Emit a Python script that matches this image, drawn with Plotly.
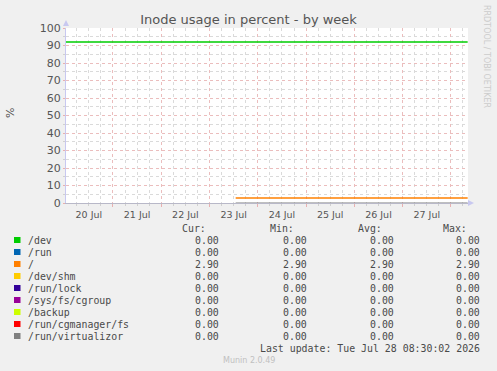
import plotly.graph_objects as go

# ---------------- data ----------------
series_names = ["/dev", "/run", "/", "/dev/shm", "/run/lock", "/sys/fs/cgroup",
                "/backup", "/run/cgmanager/fs", "/run/virtualizor"]
series_colors = ["#00CC00", "#0066B3", "#FF8000", "#FFCC00", "#330099",
                 "#990099", "#CCFF00", "#FF0000", "#808080"]
cur_vals = ["0.00", "0.00", "2.90", "0.00", "0.00", "0.00", "0.00", "0.00", "0.00"]
min_vals = ["0.00", "0.00", "2.90", "0.00", "0.00", "0.00", "0.00", "0.00", "0.00"]
avg_vals = ["0.00", "0.00", "2.90", "0.00", "0.00", "0.00", "0.00", "0.00", "0.00"]
max_vals = ["0.00", "0.00", "2.90", "0.00", "0.00", "0.00", "0.00", "0.00", "0.00"]

# line drawn across the whole week (green)
green_times = ["2026-07-20 00:35", "2026-07-28 08:20"]
green_values = [92, 92]
# series with data from 23 Jul onwards
data_times = ["2026-07-23 13:00", "2026-07-28 08:20"]
slash_values = [2.9, 2.9]
zero_values = [0, 0]

x_range = ["2026-07-20 00:39", "2026-07-28 08:30"]
y_range = [0, 100]
title_text = "Inode usage in percent - by week"
last_update = "Last update: Tue Jul 28 08:30:02 2026"

# ---------------- layout helpers ----------------
W, H = 497, 371
PL, PR, PT, PB = 66, 468, 28, 203


def xp(px):
    return (px - PL) / (PR - PL)


def yp(py):
    return (PB - py) / (PB - PT)


fig = go.Figure()

# zero-valued series (only the top-most one is visible at 0)
for name, col in zip(series_names, series_colors):
    if name != "/run/virtualizor":
        continue
    fig.add_trace(go.Scatter(x=data_times, y=zero_values, mode="lines",
                             line=dict(color=col, width=1.2), showlegend=False,
                             hoverinfo="skip"))

fig.add_trace(go.Scatter(x=green_times, y=green_values, mode="lines",
                         line=dict(color="#00CC00", width=1.5), showlegend=False))
fig.add_trace(go.Scatter(x=data_times, y=slash_values, mode="lines",
                         line=dict(color="#FF8000", width=1.5), showlegend=False))

mono = "DejaVu Sans Mono"
txt = "#4a4a4a"
annotations = []
shapes = []

# legend header
row_y0 = 240
row_dy = 12
hdr_y = 228
col_right = [221, 309, 396, 482]
headers = ["Cur:", "Min:", "Avg:", "Max:"]
hdr_right = [208, 296, 384, 469]
for h, r in zip(headers, hdr_right):
    annotations.append(dict(x=xp(r), y=yp(hdr_y), xref="paper", yref="paper",
                            text=h, showarrow=False, xanchor="right", yanchor="middle",
                            font=dict(family=mono, size=9.9, color=txt)))

for i, (name, col) in enumerate(zip(series_names, series_colors)):
    y = row_y0 + i * row_dy
    shapes.append(dict(type="rect", xref="paper", yref="paper",
                       x0=xp(14), x1=xp(20.5), y0=yp(y - 3), y1=yp(y + 3),
                       fillcolor=col, line=dict(width=0)))
    annotations.append(dict(x=xp(26), y=yp(y), xref="paper", yref="paper",
                            text=name, showarrow=False, xanchor="left", yanchor="middle",
                            font=dict(family=mono, size=9.9, color=txt)))
    for vals, r in zip([cur_vals, min_vals, avg_vals, max_vals], col_right):
        annotations.append(dict(x=xp(r), y=yp(y), xref="paper", yref="paper",
                                text=vals[i], showarrow=False, xanchor="right",
                                yanchor="middle",
                                font=dict(family=mono, size=9.9, color=txt)))

annotations.append(dict(x=xp(482), y=yp(348), xref="paper", yref="paper",
                        text=last_update, showarrow=False, xanchor="right",
                        yanchor="middle", font=dict(family=mono, size=9.9, color=txt)))
annotations.append(dict(x=xp(248.5), y=yp(360), xref="paper", yref="paper",
                        text="Munin 2.0.49", showarrow=False, xanchor="center",
                        yanchor="middle", font=dict(family="DejaVu Sans", size=8,
                                                    color="#C0C0C0")))
annotations.append(dict(x=xp(487), y=yp(56), xref="paper", yref="paper",
                        text="RRDTOOL / TOBI OETIKER", showarrow=False, textangle=90,
                        xanchor="center", yanchor="middle",
                        font=dict(family="DejaVu Sans", size=8, color="#CCCCCC")))
annotations.append(dict(x=xp(10), y=yp(113), xref="paper", yref="paper",
                        text="%", showarrow=False, textangle=-90,
                        xanchor="center", yanchor="middle",
                        font=dict(family="DejaVu Sans", size=11, color="#555555")))

# axis arrows
shapes.append(dict(type="path", xref="paper", yref="paper",
                   path=f"M {xp(63)} {yp(26)} L {xp(69)} {yp(26)} L {xp(66)} {yp(20)} Z",
                   fillcolor="#C8C8F0", line=dict(width=0)))
shapes.append(dict(type="path", xref="paper", yref="paper",
                   path=f"M {xp(468)} {yp(200)} L {xp(468)} {yp(206)} L {xp(474)} {yp(203)} Z",
                   fillcolor="#C8C8F0", line=dict(width=0)))

fig.update_layout(
    width=W, height=H,
    margin=dict(l=PL, r=W - PR, t=PT, b=H - PB),
    paper_bgcolor="#F0F0F0", plot_bgcolor="#FFFFFF",
    showlegend=False,
    title=dict(text=title_text, x=0.5, xref="container", xanchor="center",
               y=1 - 19 / H, yref="container", yanchor="middle",
               font=dict(family="DejaVu Sans", size=13, color="#555555")),
    annotations=annotations, shapes=shapes,
)

fig.update_xaxes(
    type="date", range=x_range,
    tick0="2026-07-20", dtick=86400000, ticklabelmode="period",
    tickformat="%d %b",
    tickfont=dict(family="DejaVu Sans", size=9.5, color="#555555"),
    showgrid=True, gridcolor="#EBBDBD", griddash="dot", gridwidth=1,
    ticks="outside", ticklen=3, tickcolor="#E8B0B0",
    minor=dict(dtick=6 * 3600000, tick0="2026-07-20", showgrid=True,
               gridcolor="#DADADA", griddash="dot", ticks="outside",
               ticklen=2, tickcolor="#D0D0D0"),
    showline=True, linecolor="#B8B8C8", linewidth=1,
    zeroline=False, fixedrange=True,
)
fig.update_yaxes(
    range=y_range, dtick=10, tick0=0,
    tickfont=dict(family="DejaVu Sans", size=11, color="#555555"),
    showgrid=True, gridcolor="#EBBDBD", griddash="dot", gridwidth=1,
    ticks="outside", ticklen=2, tickcolor="#E8B0B0",
    minor=dict(dtick=5, showgrid=True, gridcolor="#DADADA", griddash="dot",
               ticks="outside", ticklen=2, tickcolor="#D0D0D0"),
    showline=True, linecolor="#C8C8F0", linewidth=1,
    zeroline=False, fixedrange=True,
)

fig.write_html("out.html")
